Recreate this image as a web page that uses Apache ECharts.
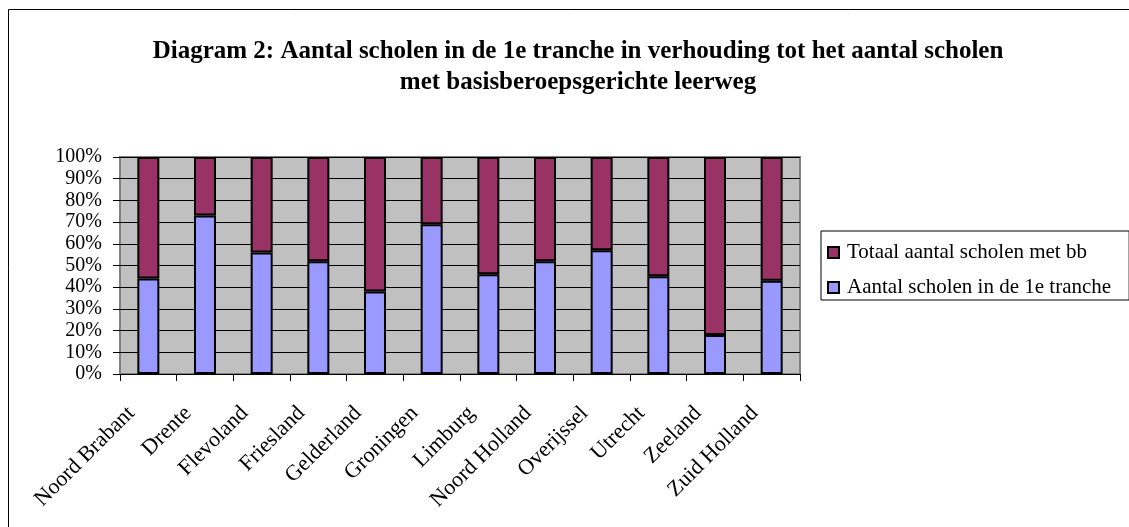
<!DOCTYPE html>
<html>
<head>
<meta charset="utf-8">
<script src="https://cdn.jsdelivr.net/npm/echarts@6/dist/echarts.min.js"></script>
<style>
html,body{margin:0;padding:0;background:#fff;}
#chart{width:1129px;height:527px;}
</style>
</head>
<body>
<div id="chart"></div>
<script>
var titleLines = ['Diagram 2: Aantal scholen in de 1e tranche in verhouding tot het aantal scholen', 'met basisberoepsgerichte leerweg'];
var categories = ['Noord Brabant','Drente','Flevoland','Friesland','Gelderland','Groningen','Limburg','Noord Holland','Overijssel','Utrecht','Zeeland','Zuid Holland'];
var seriesNames = ['Aantal scholen in de 1e tranche', 'Totaal aantal scholen met bb'];
var eersteTranche = [44, 73, 56, 52, 38, 69, 46, 52, 57, 45, 18, 43];
var totaalBb = [56, 27, 44, 48, 62, 31, 54, 48, 43, 55, 82, 57];
var yTicks = [0, 10, 20, 30, 40, 50, 60, 70, 80, 90, 100];

var FONT = '"Liberation Serif", "Times New Roman", serif';
var chart = echarts.init(document.getElementById('chart'));
chart.setOption({
  animation: false,
  backgroundColor: '#ffffff',
  graphic: [
    { type: 'rect', shape: { x: 8.5, y: 9.5, width: 1200, height: 600 }, style: { fill: 'none', stroke: '#000', lineWidth: 1 }, silent: true },
    { type: 'text', style: { x: 578, y: 52, text: titleLines[0], textAlign: 'center', textVerticalAlign: 'middle', font: 'bold 25px ' + FONT, fill: '#000' } },
    { type: 'text', style: { x: 578, y: 83, text: titleLines[1], textAlign: 'center', textVerticalAlign: 'middle', font: 'bold 25px ' + FONT, fill: '#000' } }
  ],
  legend: {
    orient: 'vertical',
    left: 821,
    top: 231,
    padding: [11, 18, 2, 6],
    borderColor: '#000',
    borderWidth: 1,
    backgroundColor: '#fff',
    itemWidth: 11,
    itemHeight: 11,
    itemGap: 14,
    icon: 'rect',
    data: [seriesNames[1], seriesNames[0]],
    itemStyle: { borderColor: '#000', borderWidth: 2 },
    textStyle: { fontFamily: FONT, fontSize: 21, color: '#000', lineHeight: 21, padding: [0, 0, 0, 3] }
  },
  grid: {
    left: 120, top: 157, width: 680, height: 217,
    show: true, backgroundColor: '#c0c0c0', borderColor: '#808080', borderWidth: 2
  },
  xAxis: {
    type: 'category',
    data: categories,
    boundaryGap: true,
    axisLine: { show: true, lineStyle: { color: '#000', width: 1 } },
    axisTick: { show: true, alignWithLabel: false, interval: 0, length: 7, lineStyle: { color: '#000' } },
    axisLabel: {
      interval: 0, rotate: 45, margin: 19, padding: [0, 24, 0, 0],
      fontFamily: FONT, fontSize: 22, color: '#000'
    },
    splitLine: { show: false }
  },
  yAxis: {
    type: 'value',
    min: yTicks[0], max: yTicks[yTicks.length - 1], interval: yTicks[1] - yTicks[0],
    axisLine: { show: false },
    axisTick: { show: true, length: 7, lineStyle: { color: '#000' } },
    axisLabel: { formatter: '{value}%', margin: 18, fontFamily: FONT, fontSize: 20, color: '#000' },
    splitLine: { show: true, lineStyle: { color: '#000', width: 1 } }
  },
  series: [
    {
      name: seriesNames[0], type: 'bar', stack: 'pct', data: eersteTranche, barWidth: 22,
      itemStyle: { color: '#9999ff', borderColor: '#000', borderWidth: 2 }
    },
    {
      name: seriesNames[1], type: 'bar', stack: 'pct', data: totaalBb, barWidth: 22,
      itemStyle: { color: '#993366', borderColor: '#000', borderWidth: 2 }
    }
  ]
});
</script>
</body>
</html>
